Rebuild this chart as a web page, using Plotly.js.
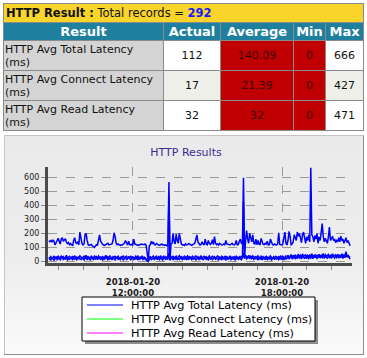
<!DOCTYPE html>
<html>
<head>
<meta charset="utf-8">
<script src="https://cdn.plot.ly/plotly-3.0.1.min.js"></script>
<style>
  html, body { margin:0; padding:0; background:#ffffff; }
  body { width:367px; height:358px; position:relative; overflow:hidden; font-family:'DejaVu Sans', Verdana, sans-serif; }
  #tbl { position:absolute; left:3px; top:3px; width:360px; border-collapse:collapse; table-layout:fixed; }
  #tbl td, #tbl th { border:1px solid #8a8a8a; padding:0; overflow:hidden; }
  #tbl .ttl { background:#f9d52c; height:18px; font-size:11.5px; text-align:left; padding-left:2px; color:#111; }
  #tbl .ttl b.n { color:#1a1aff; }
  #tbl th { background:#1f7f9f; color:#ffffff; font-size:13px; font-weight:bold; height:17px; line-height:17px; }
  #tbl td.lbl { background:#d4d4d4; font-size:11px; line-height:13px; text-align:left; height:29px; padding-left:1px; color:#111; }
  #tbl td.num { font-size:11px; text-align:center; color:#111; }
  #tbl td.red { background:#c00000; color:#3a0000; }
  #tbl tr.alt td.num.plain { background:#efefea; }
  #box { position:absolute; left:4px; top:135px; width:358px; height:218px;
         border:1px solid #c4c4c4; border-right-color:#8e8e8e; border-bottom-color:#8e8e8e;
         background:linear-gradient(#eaeaea 0%, #ededed 55%, #fafafa 100%); }
  #chart { position:absolute; left:4px; top:135px; width:359px; height:219px; }
</style>
</head>
<body>
<table id="tbl">
  <colgroup><col style="width:160px"><col style="width:57px"><col style="width:73px"><col style="width:32px"><col style="width:38px"></colgroup>
  <tbody id="tb"></tbody>
</table>
<div id="box"></div>
<div id="chart"></div>
<script>
// ---------- table data ----------
const totalRecords = 292;
const tableHeaders = ['Result', 'Actual', 'Average', 'Min', 'Max'];
const resultNames = ['HTTP Avg Total Latency (ms)', 'HTTP Avg Connect Latency (ms)', 'HTTP Avg Read Latency (ms)'];
const actualVals = [112, 17, 32];
const averageVals = ['140.09', '21.39', '32'];
const minVals = [0, 0, 0];
const maxVals = [666, 427, 471];

// ---------- chart data ----------
const chartTitle = 'HTTP Results';
const seriesNames = ['HTTP Avg Total Latency (ms)', 'HTTP Avg Connect Latency (ms)', 'HTTP Avg Read Latency (ms)'];
const legendColors = ['#0000ff', '#00ff00', '#ff00ff'];
const startTime = '2018-01-20 08:37:00';
const intervalSeconds = 150;
const yTickVals = [0, 100, 200, 300, 400, 500, 600];

const totalLatency = [
  148,142,150,138,152,145,118,130,150,165,
  140,125,160,170,145,158,162,138,128,135,
  120,128,118,112,150,170,135,128,142,120,
  210,150,128,118,125,190,200,150,120,115,
  118,122,112,108,100,110,120,118,150,190,
  145,128,122,118,115,120,125,130,118,120,
  118,125,150,205,180,130,120,125,118,115,
  120,118,125,130,150,125,118,145,120,118,
  122,118,160,125,120,118,115,120,118,125,
  122,118,120,125,115,60,2,110,120,145,
  125,140,120,118,128,122,118,115,120,125,
  118,120,115,118,112,120,565,10,125,130,
  200,140,125,195,150,130,200,160,125,118,
  120,115,125,118,120,128,122,118,115,120,
  125,130,160,190,140,125,118,122,140,125,
  118,160,125,120,150,128,122,130,155,120,
  178,130,120,125,118,130,122,118,120,125,
  118,150,125,122,120,118,125,130,120,118,
  125,150,118,122,145,160,130,125,595,20,
  150,220,160,130,200,175,140,190,130,125,
  160,120,150,125,118,165,140,122,120,130,
  125,145,118,120,160,130,122,118,125,120,
  118,125,205,122,120,118,125,160,210,130,
  118,150,215,180,120,125,140,190,175,150,
  210,180,200,160,135,190,210,170,130,175,
  150,190,140,666,190,175,140,185,160,200,
  130,175,150,205,270,180,140,165,150,130,
  175,245,150,165,180,150,160,135,150,140,
  170,140,180,150,160,130,150,170,135,150,130,112
];
const connectLatency = [
  15,20,12,25,18,10,22,30,14,18,
  25,12,20,35,15,22,18,28,12,20,
  16,24,30,14,20,18,25,12,22,35,
  18,14,26,20,12,30,22,16,24,18,
  12,20,28,15,22,18,25,14,30,20,
  16,22,12,26,18,35,20,14,24,18,
  22,15,28,20,12,24,30,16,20,14,
  25,18,12,22,28,15,20,35,18,12,
  20,26,14,22,18,30,12,24,16,20,
  28,15,22,18,12,10,0,20,25,14,
  18,24,12,30,20,16,22,14,28,18,
  12,25,20,16,22,15,60,10,28,20,
  14,24,18,30,12,22,16,26,20,14,
  22,18,28,12,25,16,20,30,14,22,
  18,26,12,20,24,15,30,18,22,14,
  20,28,16,22,12,26,18,24,14,20,
  30,16,22,18,12,25,20,14,28,18,
  22,12,26,16,20,30,14,22,18,24,
  12,20,28,16,22,18,14,30,427,25,
  45,20,28,35,18,40,22,30,16,25,
  20,28,14,22,18,30,12,24,20,16,
  26,14,22,18,30,12,20,24,16,22,
  18,28,14,22,20,16,26,12,30,18,
  22,35,18,28,40,20,24,45,18,30,
  25,40,22,35,18,45,28,20,38,25,
  30,22,40,25,35,20,45,28,38,22,
  30,42,25,35,28,48,22,38,30,25,
  40,28,35,22,45,30,25,38,28,42,
  25,35,30,45,22,38,28,55,30,40,25,17
];
const readLatency = [
  30,25,35,22,28,40,20,32,26,38,
  30,22,42,28,35,20,32,45,25,30,
  38,28,22,35,30,42,25,32,28,20,
  40,32,25,30,38,22,45,28,35,30,
  25,38,30,22,42,28,35,25,40,30,
  32,26,38,22,30,45,28,35,25,40,
  30,22,35,28,40,25,32,38,22,30,
  35,28,42,25,30,38,22,32,28,40,
  25,35,30,22,38,28,42,25,32,30,
  38,25,32,28,22,15,0,30,35,28,
  32,40,25,30,38,22,35,28,42,25,
  30,38,22,35,28,30,471,20,35,28,
  40,25,32,38,22,30,42,28,35,25,
  30,38,25,32,40,22,35,28,30,38,
  25,32,40,28,35,22,30,42,25,32,
  38,28,35,22,30,40,25,32,38,28,
  35,25,30,42,28,32,22,38,30,25,
  40,28,35,25,30,38,22,32,28,35,
  25,38,30,22,35,28,40,25,60,30,
  42,35,28,45,30,38,25,40,32,28,
  35,25,40,30,22,38,28,35,25,32,
  38,28,32,25,40,30,22,35,28,38,
  30,25,35,28,42,22,38,30,25,40,
  32,45,28,38,50,30,42,35,48,30,
  40,52,35,45,30,55,38,42,48,35,
  45,32,50,38,55,35,42,48,30,45,
  38,52,35,45,40,58,32,48,38,42,
  50,35,45,40,55,38,42,48,35,52,
  40,45,38,55,35,48,42,70,38,45,35,32
];

// ---------- build table ----------
const tb = document.getElementById('tb');
let html = '<tr><td class="ttl" colspan="5"><b>HTTP Result :</b> Total records = <b class="n">' + totalRecords + '</b></td></tr>';
html += '<tr>' + tableHeaders.map(h => '<th>' + h + '</th>').join('') + '</tr>';
resultNames.forEach((n, i) => {
  html += '<tr class="' + (i === 1 ? 'alt' : '') + '">' +
    '<td class="lbl">' + n.replace(' (ms)', '<br>(ms)') + '</td>' +
    '<td class="num plain">' + actualVals[i] + '</td>' +
    '<td class="num red">' + averageVals[i] + '</td>' +
    '<td class="num red">' + minVals[i] + '</td>' +
    '<td class="num plain">' + maxVals[i] + '</td></tr>';
});
tb.innerHTML = html;

// ---------- time axis ----------
function pad(v) { return (v < 10 ? '0' : '') + v; }
const t0 = Date.UTC(2018, 0, 20, +startTime.slice(11,13), +startTime.slice(14,16), +startTime.slice(17,19));
const times = totalLatency.map((_, i) => {
  const d = new Date(t0 + i * intervalSeconds * 1000);
  return d.getUTCFullYear() + '-' + pad(d.getUTCMonth() + 1) + '-' + pad(d.getUTCDate()) + ' ' +
         pad(d.getUTCHours()) + ':' + pad(d.getUTCMinutes()) + ':' + pad(d.getUTCSeconds());
});

const lineColor = '#0000ff';
const traces = [
  { x: times, y: connectLatency, name: seriesNames[1], type: 'scatter', mode: 'lines', line: { color: lineColor, width: 1.5 }, showlegend: false, hoverinfo: 'skip' },
  { x: times, y: readLatency, name: seriesNames[2], type: 'scatter', mode: 'lines', line: { color: lineColor, width: 1.5 }, showlegend: false, hoverinfo: 'skip' },
  { x: times, y: totalLatency, name: seriesNames[0], type: 'scatter', mode: 'lines', line: { color: lineColor, width: 1.5 }, showlegend: false, hoverinfo: 'skip' }
];

// plot area geometry within the 359x219 chart div
const W = 359, H = 219, ML = 44, MR = 11, MT = 32, MB = 91;
const PW = W - ML - MR, PH = H - MT - MB;
const px = v => (v - ML) / PW;
const py = v => (H - MB - v) / PH;

const shapes = [
  { type: 'rect', xref: 'paper', yref: 'paper', x0: px(81), x1: px(314), y0: py(165), y1: py(209), fillcolor: '#8c8c8c', line: { width: 0 }, layer: 'above' },
  { type: 'rect', xref: 'paper', yref: 'paper', x0: px(78), x1: px(311), y0: py(162), y1: py(206), fillcolor: '#ffffff', line: { color: '#000000', width: 1 }, layer: 'above' }
];
const annotations = [];
const rowY = [170, 184, 198];
seriesNames.forEach((n, i) => {
  shapes.push({ type: 'line', xref: 'paper', yref: 'paper', x0: px(83), x1: px(119), y0: py(rowY[i]), y1: py(rowY[i]), line: { color: legendColors[i], width: 1 }, layer: 'above' });
  annotations.push({ xref: 'paper', yref: 'paper', x: px(125), y: py(rowY[i]), xanchor: 'left', yanchor: 'middle', text: n, showarrow: false,
    font: { family: 'DejaVu Sans', size: 11.3, color: '#000000' } });
});

const layout = {
  width: W, height: H,
  margin: { l: ML, r: MR, t: MT, b: MB, pad: 0 },
  paper_bgcolor: 'rgba(0,0,0,0)', plot_bgcolor: 'rgba(0,0,0,0)',
  showlegend: false,
  title: { text: chartTitle, font: { family: 'DejaVu Sans', size: 11, color: '#3b2a94' }, xref: 'container', x: 0.507, xanchor: 'center', yref: 'container', y: 1 - 17 / H, yanchor: 'middle' },
  xaxis: {
    type: 'date', range: ['2018-01-20 08:35:00', '2018-01-20 20:49:00'],
    tick0: '2018-01-20 00:00:00', dtick: 21600000, tickformat: '%Y-%m-%d<br>%H:%M:%S',
    tickfont: { family: 'DejaVu Sans', size: 8.5, color: '#1a1a1a', weight: 'bold' },
    ticks: 'outside', ticklen: 4, tickcolor: '#777', tickwidth: 1, ticklabelstandoff: 5,
    minor: { dtick: 3600000, tick0: '2018-01-20 00:00:00', ticks: 'outside', ticklen: 4, tickcolor: '#888', tickwidth: 1, showgrid: false },
    showgrid: true, gridcolor: '#9a9a9a', griddash: 'dash', gridwidth: 1,
    showline: true, linecolor: '#4a4a4a', linewidth: 3, zeroline: false, fixedrange: true
  },
  yaxis: {
    range: [-10, 672], tickvals: yTickVals, ticktext: yTickVals.map(String),
    tickfont: { family: 'DejaVu Sans', size: 8, color: '#1a1a1a' },
    ticks: 'outside', ticklen: 4, tickcolor: '#888', tickwidth: 1,
    showgrid: true, gridcolor: '#9a9a9a', griddash: 'dash', gridwidth: 1,
    showline: true, linecolor: '#4a4a4a', linewidth: 3, zeroline: false, fixedrange: true
  },
  shapes: shapes,
  annotations: annotations
};

Plotly.newPlot('chart', traces, layout, { displayModeBar: false, staticPlot: true });
</script>
</body>
</html>
